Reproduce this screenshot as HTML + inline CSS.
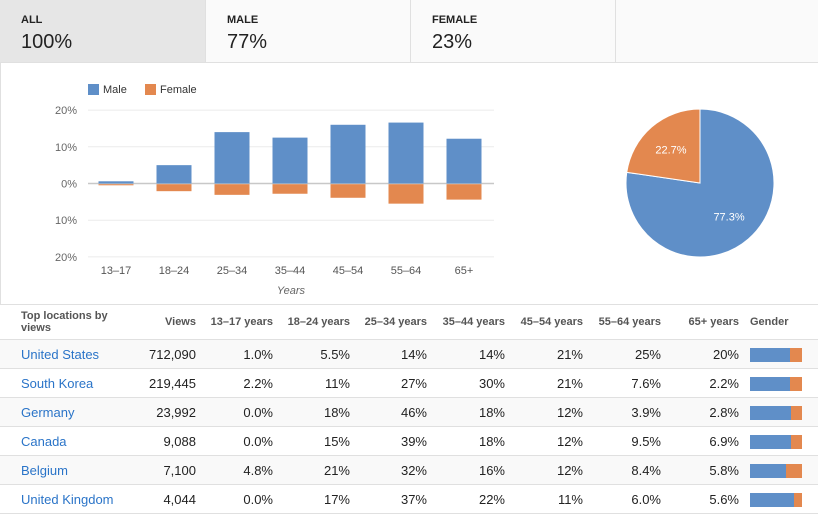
<!DOCTYPE html>
<html><head><meta charset="utf-8">
<style>
body{margin:0;width:818px;height:517px;overflow:hidden;background:#fff;font-family:"Liberation Sans",Arial,sans-serif;position:relative}
.tab{position:absolute;top:0;height:63px;border-right:1px solid #e0e0e0;border-bottom:1px solid #e0e0e0;background:#fafafa;box-sizing:border-box}
.tab .l{position:absolute;left:21px;top:14px;font-size:11px;font-weight:bold;color:#222}
.tab .v{position:absolute;left:21px;top:31px;font-size:20px;color:#222}
table{position:absolute;left:0;top:304px;width:818px;border-collapse:collapse;font-size:13px;color:#222}
td,th{height:28px;border-top:1px solid #e0e0e0;border-bottom:1px solid #e0e0e0;padding:0;text-align:right;white-space:nowrap}
th{font-size:11px;color:#555;height:34px;font-weight:bold}
tr.alt td{background:#f9f9f9}
td a{color:#2a74c8;text-decoration:none}
.gb{display:inline-block;width:52px;height:14px;vertical-align:middle;background:#e3884f}
.gb span{display:block;height:14px;background:#5f8fc8}
</style></head><body>
<div class="tab" style="left:0;width:206px;background:#e6e6e6"><div class="l">ALL</div><div class="v">100%</div></div>
<div class="tab" style="left:206px;width:205px"><div class="l">MALE</div><div class="v">77%</div></div>
<div class="tab" style="left:411px;width:205px"><div class="l">FEMALE</div><div class="v">23%</div></div>
<div class="tab" style="left:616px;width:202px;border-right:none"></div>
<div style="position:absolute;left:0;top:63px;width:1px;height:241px;background:#e0e0e0"></div>
<svg id="bar" width="818" height="304" style="position:absolute;left:0;top:0" font-family="Liberation Sans,Arial,sans-serif"></svg>
<table>
<tr><th style="text-align:left;padding-left:21px;width:110px;line-height:12px;white-space:normal">Top locations by views</th><th style="width:65px">Views</th><th style="width:77px">13–17 years</th><th style="width:77px">18–24 years</th><th style="width:77px">25–34 years</th><th style="width:78px">35–44 years</th><th style="width:78px">45–54 years</th><th style="width:78px">55–64 years</th><th style="width:78px">65+ years</th><th style="text-align:left;padding-left:11px">Gender</th></tr>
<tbody id="tb"></tbody>
</table>
<script>
const cats=["13–17","18–24","25–34","35–44","45–54","55–64","65+"];
const male=[0.6,5,14,12.5,16,16.6,12.2];
const female=[0.3,1.9,2.9,2.6,3.7,5.3,4.2];
const yTicks=[20,10,0,-10,-20];
const pieVals=[77.3,22.7];
const countries=["United States","South Korea","Germany","Canada","Belgium","United Kingdom"];
const views=["712,090","219,445","23,992","9,088","7,100","4,044"];
const ageCells=[["1.0%","5.5%","14%","14%","21%","25%","20%"],["2.2%","11%","27%","30%","21%","7.6%","2.2%"],["0.0%","18%","46%","18%","12%","3.9%","2.8%"],["0.0%","15%","39%","18%","12%","9.5%","6.9%"],["4.8%","21%","32%","16%","12%","8.4%","5.8%"],["0.0%","17%","37%","22%","11%","6.0%","5.6%"]];
const maleShare=[77,77,79,79,70,85];
const NS="http://www.w3.org/2000/svg";
const svg=document.getElementById('bar');
function el(t,a,p){const e=document.createElementNS(NS,t);for(const k in a)e.setAttribute(k,a[k]);(p||svg).appendChild(e);return e;}
const y=v=>183.5-v*3.67;
const x0=88,bw=58;
const xc=i=>x0+bw*(i+0.5)-1;
yTicks.forEach(t=>{const l=el('line',{x1:88,x2:494,y1:y(t),y2:y(t),stroke:t==0?'#c8c8c8':'#ebebeb','stroke-width':t==0?1.5:1});

const tx=el('text',{x:77,y:y(t)+4,'text-anchor':'end','font-size':11,fill:'#666'});tx.textContent=Math.abs(t)+'%';
});
cats.forEach((c,i)=>{
const m=el('rect',{x:xc(i)-17.5,y:y(male[i]),width:35,height:y(0)-y(male[i]),fill:'#5f8fc8'});

const f=el('rect',{x:xc(i)-17.5,y:y(0)+0.7,width:35,height:y(-female[i])-y(0),fill:'#e3884f'});

const t=el('text',{x:xc(i),y:274,'text-anchor':'middle','font-size':11,fill:'#555'});t.textContent=c;
});
let t=el('text',{x:291,y:294,'text-anchor':'middle','font-size':11,'font-style':'italic',fill:'#666'});t.textContent='Years';

let r=el('rect',{x:88,y:84,width:11,height:11,fill:'#5f8fc8'});
t=el('text',{x:103,y:93,'font-size':11,fill:'#333'});t.textContent='Male';
r=el('rect',{x:145,y:84,width:11,height:11,fill:'#e3884f'});
t=el('text',{x:160,y:93,'font-size':11,fill:'#333'});t.textContent='Female';
// pie
const cx=700,cy=183,R=74;const total=pieVals[0]+pieVals[1];
let a0=0;const cols=['#5f8fc8','#e3884f'];
pieVals.forEach((v,i)=>{const a1=a0+v/total*2*Math.PI;
const p=(a)=>[cx+R*Math.sin(a),cy-R*Math.cos(a)];
const [x1,y1]=p(a0),[x2,y2]=p(a1);
const s=el('path',{d:`M${cx},${cy}L${x1},${y1}A${R},${R} 0 ${a1-a0>Math.PI?1:0} 1 ${x2},${y2}Z`,fill:cols[i],stroke:'#fff','stroke-width':1});

const am=(a0+a1)/2;const lt=el('text',{x:cx+R*0.6*Math.sin(am),y:cy-R*0.6*Math.cos(am)+4,'text-anchor':'middle','font-size':11,fill:'#fff'});
lt.textContent=v.toFixed(1)+'%';
a0=a1;});
const tb=document.getElementById('tb');
countries.forEach((c,i)=>{const tr=document.createElement('tr');if(i%2==0)tr.className='alt';


let h=`<td style="text-align:left;padding-left:21px"><a href="#">${c}</a></td><td>${views[i]}</td>`;
ageCells[i].forEach(v=>h+=`<td>${v}</td>`);
h+=`<td style="text-align:left;padding-left:11px"><span class="gb"><span style="width:${maleShare[i]}%"></span></span></td>`;
tr.innerHTML=h;tb.appendChild(tr);});
</script>
</body></html>
